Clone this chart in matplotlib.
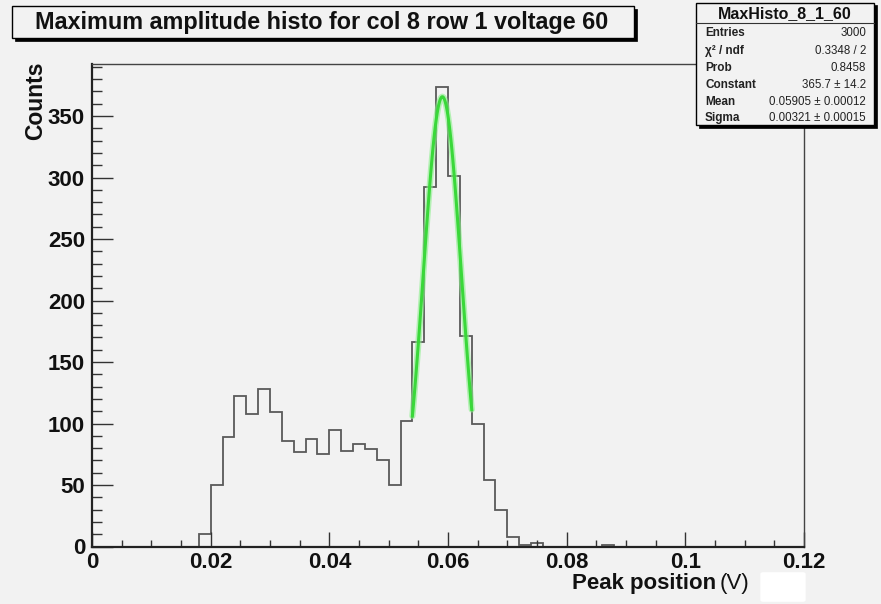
import numpy as np
import matplotlib
matplotlib.use("Agg")
import matplotlib.pyplot as plt
from matplotlib.patches import Rectangle, FancyBboxPatch
from matplotlib.ticker import MultipleLocator, FuncFormatter

# ---------------- data ----------------
x_min, x_max, bin_width = 0.0, 0.12, 0.002
counts = [0, 0, 0, 0, 0, 0, 0, 0, 0, 10,
          50, 89, 122, 108, 128, 109, 86, 77, 87, 75,
          95, 78, 83, 79, 70, 50, 102, 166, 292, 374,
          301, 171, 100, 54, 30, 8, 1, 3, 0, 0,
          0, 0, 0, 1, 0, 0, 0, 0, 0, 0,
          0, 0, 0, 0, 0, 0, 0, 0, 0, 0]

fit_constant = 365.7
fit_mean = 0.05905
fit_sigma = 0.00321
fit_range = (0.054, 0.064)

title = "Maximum amplitude histo for col 8 row 1 voltage 60"
stats_title = "MaxHisto_8_1_60"
stats_labels = ["Entries", "χ² / ndf", "Prob", "Constant", "Mean", "Sigma"]
stats_values = ["3000", "0.3348 / 2", "0.8458", "365.7 ± 14.2",
                "0.05905 ± 0.00012", "0.00321 ± 0.00015"]
x_label = "Peak position"
x_unit = "(V)"
y_label = "Counts"

# ---------------- figure ----------------
W, H = 881, 604
BG = "#f2f2f2"
FONT = "Liberation Sans"
fig = plt.figure(figsize=(W / 100, H / 100), dpi=100, facecolor=BG)

def fx(px):
    return px / W

def fy(py):
    return 1 - py / H

ax_l, ax_r, ax_t, ax_b = 92, 804, 63.5, 546.5
ax = fig.add_axes([fx(ax_l), fy(ax_b), fx(ax_r - ax_l), (ax_b - ax_t) / H])
ax.set_facecolor(BG)

edges = np.linspace(x_min, x_max, len(counts) + 1)
ax.stairs(counts, edges, color="#5a5a5a", lw=1.3, baseline=0)

xf = np.linspace(fit_range[0], fit_range[1], 100)
yf = fit_constant * np.exp(-0.5 * ((xf - fit_mean) / fit_sigma) ** 2)
ax.plot(xf, yf, color="#8af08a", lw=4.5, alpha=0.6, solid_capstyle="round")
ax.plot(xf, yf, color="#3ad83a", lw=2.2)

ax.set_xlim(x_min, x_max)
ax.set_ylim(0, 1.05 * max(counts))

ax.xaxis.set_major_locator(MultipleLocator(0.02))
ax.xaxis.set_minor_locator(MultipleLocator(0.005))
ax.yaxis.set_major_locator(MultipleLocator(50))
ax.yaxis.set_minor_locator(MultipleLocator(10))
ax.xaxis.set_major_formatter(FuncFormatter(lambda v, p: "%g" % round(v, 4)))
ax.yaxis.set_major_formatter(FuncFormatter(lambda v, p: "%d" % v))

ax.tick_params(axis="x", which="major", direction="in", length=10.5, width=1.0,
               color="#333333", pad=4)
ax.tick_params(axis="x", which="minor", direction="in", length=5, width=1.0,
               color="#333333")
ax.tick_params(axis="y", which="major", direction="in", length=15, width=1.0,
               color="#333333", pad=5)
ax.tick_params(axis="y", which="minor", direction="in", length=7.5, width=1.0,
               color="#333333")
for lab in ax.get_xticklabels() + ax.get_yticklabels():
    lab.set_fontfamily(FONT)
    lab.set_fontweight("bold")
    lab.set_fontsize(16)
    lab.set_color("#111111")

for side in ["left", "bottom"]:
    ax.spines[side].set_linewidth(1.6)
    ax.spines[side].set_color("#222222")
for side in ["top", "right"]:
    ax.spines[side].set_linewidth(1.0)
    ax.spines[side].set_color("#444444")

# axis titles
fig.text(fx(716), fy(583), x_label, ha="right", va="center",
         fontfamily=FONT, fontweight="bold", fontsize=16, color="#111111")
fig.text(fx(720), fy(583), x_unit, ha="left", va="center",
         fontfamily=FONT, fontsize=16, color="#111111")
fig.text(fx(36), fy(62), y_label, ha="center", va="top", rotation=90,
         fontfamily=FONT, fontweight="bold", fontsize=16.5, color="#111111")

# white smudge after x label
fig.patches.append(FancyBboxPatch((fx(763), fy(600)), fx(40), (600 - 574) / H,
                                  boxstyle="round,pad=0.003",
                                  transform=fig.transFigure, facecolor="white",
                                  edgecolor="none", zorder=5))

# title box with shadow
tb_l, tb_t, tb_r, tb_b = 12, 6, 634, 38
fig.patches.append(Rectangle((fx(tb_l + 3), fy(tb_b + 3)), fx(tb_r - tb_l), (tb_b - tb_t) / H,
                             transform=fig.transFigure, facecolor="black",
                             edgecolor="black", lw=0.5, zorder=3))
fig.patches.append(Rectangle((fx(tb_l), fy(tb_b)), fx(tb_r - tb_l), (tb_b - tb_t) / H,
                             transform=fig.transFigure, facecolor=BG,
                             edgecolor="black", lw=1.0, zorder=4))
fig.text(fx((tb_l + tb_r) / 2 - 1), fy((tb_t + tb_b) / 2 + 1), title, ha="center", va="center",
         fontfamily=FONT, fontweight="bold", fontsize=16.8, color="#111111", zorder=6)

# stats box with shadow
sb_l, sb_t, sb_r, sb_b = 696, 3, 874, 125
fig.patches.append(Rectangle((fx(sb_l + 2.5), fy(sb_b + 2.5)), fx(sb_r - sb_l), (sb_b - sb_t) / H,
                             transform=fig.transFigure, facecolor="black",
                             edgecolor="black", lw=0.5, zorder=3))
fig.patches.append(Rectangle((fx(sb_l), fy(sb_b)), fx(sb_r - sb_l), (sb_b - sb_t) / H,
                             transform=fig.transFigure, facecolor=BG,
                             edgecolor="black", lw=1.0, zorder=4))
fig.lines.append(plt.Line2D([fx(sb_l), fx(sb_r)], [fy(23), fy(23)],
                            transform=fig.transFigure, color="#333333", lw=0.8, zorder=5))
fig.text(fx((sb_l + sb_r) / 2), fy(14), stats_title, ha="center", va="center",
         fontfamily=FONT, fontweight="bold", fontsize=11.5, color="#111111", zorder=6)
row_y = [33, 51, 68, 85, 102, 118]
for lab, val, yy in zip(stats_labels, stats_values, row_y):
    fig.text(fx(705), fy(yy), lab, ha="left", va="center", fontfamily=FONT,
             fontweight="bold", fontsize=8.5, color="#222222", zorder=6)
    fig.text(fx(866), fy(yy), val, ha="right", va="center", fontfamily=FONT,
             fontsize=8.3, color="#222222", zorder=6)

fig.savefig("out.png", dpi=100, facecolor=BG)
